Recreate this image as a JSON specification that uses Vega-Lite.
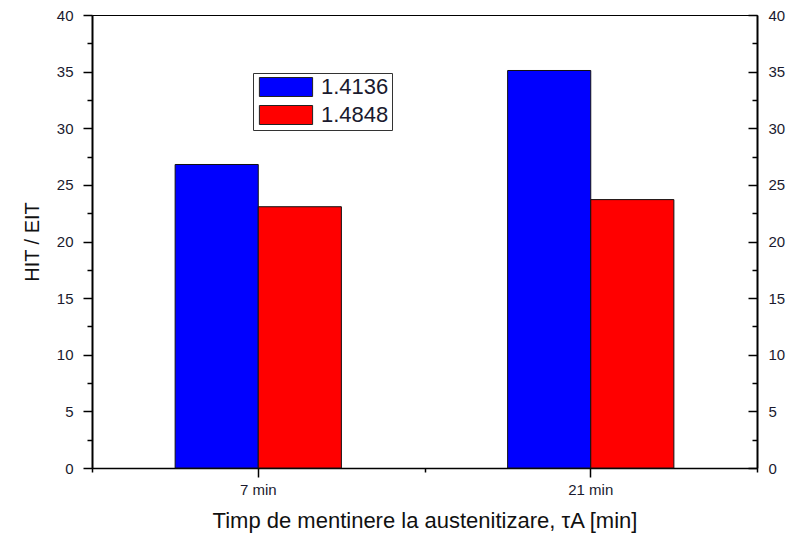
{
  "$schema": "https://vega.github.io/schema/vega-lite/v6.json",
  "width": 665,
  "height": 453,
  "autosize": {"type": "none"},
  "padding": {"left": 92, "top": 15, "right": 30, "bottom": 72},
  "background": "white",
  "config": {
    "view": {"stroke": "black", "strokeWidth": 1},
    "font": "Liberation Sans",
    "axis": {"labelFont": "Liberation Sans", "titleFont": "Liberation Sans", "labelColor": "#1a1a2e", "titleColor": "#111", "domainColor": "black", "tickColor": "black", "grid": false, "titleFontWeight": "normal"}
  },
  "data": {
    "values": [
      {"time": "7 min", "sample": "1.4136", "value": 26.8},
      {"time": "7 min", "sample": "1.4848", "value": 23.07},
      {"time": "21 min", "sample": "1.4136", "value": 35.1},
      {"time": "21 min", "sample": "1.4848", "value": 23.7}
    ]
  },
  "layer": [
    {
      "mark": {"type": "bar", "stroke": "#111", "strokeWidth": 1},
      "encoding": {
        "x": {
          "field": "time", "type": "nominal", "sort": ["7 min", "21 min"],
          "scale": {"paddingInner": 0, "paddingOuter": 0},
          "axis": {"orient": "bottom", "labelAngle": 0, "labelFontSize": 15, "tickSize": 9, "tickWidth": 1.5, "labelPadding": 5, "domainWidth": 1.5,
                   "title": "Timp de mentinere la austenitizare, τA [min]", "titleFontSize": 22, "titlePadding": 13}
        },
        "xOffset": {"field": "sample", "scale": {"paddingInner": 0, "paddingOuter": 1}},
        "y": {
          "field": "value", "type": "quantitative", "scale": {"domain": [0, 40], "nice": false},
          "axis": {"orient": "left", "values": [0, 2.5, 5, 7.5, 10, 12.5, 15, 17.5, 20, 22.5, 25, 27.5, 30, 32.5, 35, 37.5, 40],
                   "labelExpr": "datum.value % 5 === 0 ? datum.label : ''",
                   "tickSize": {"condition": {"test": "datum.value % 5 === 0", "value": 9}, "value": 5},
                   "tickWidth": 1.5, "domainWidth": 2, "labelFontSize": 15, "labelPadding": 10,
                   "title": "HIT / EIT", "titleFontSize": 20, "titlePadding": 14}
        },
        "color": {
          "field": "sample", "type": "nominal",
          "scale": {"range": ["#0000ff", "#ff0000"]},
          "legend": {"orient": "none", "legendX": 161, "legendY": 58, "title": null,
                     "strokeColor": "#333", "padding": 3,
                     "symbolType": "M-2.8,-1H2.8V1H-2.8Z", "symbolSize": 361,
                     "symbolStrokeColor": "#222", "symbolStrokeWidth": 1, "symbolOpacity": 1,
                     "symbolOffset": 19, "labelFontSize": 22, "labelOffset": 24, "rowPadding": 4,
                     "labelFont": "Liberation Sans", "labelColor": "#1a1a2e"}
        }
      }
    },
    {
      "mark": {"type": "bar", "opacity": 0},
      "encoding": {
        "x": {
          "field": "time", "type": "nominal", "sort": ["7 min", "21 min"],
          "scale": {"paddingInner": 0, "paddingOuter": 0},
          "axis": {"orient": "bottom", "tickBand": "extent", "labels": false, "domain": false, "tickSize": 4, "tickWidth": 1.5, "title": null}
        },
        "xOffset": {"field": "sample", "scale": {"paddingInner": 0, "paddingOuter": 1}},
        "y": {
          "field": "value", "type": "quantitative", "scale": {"domain": [0, 40], "nice": false},
          "axis": {"orient": "right", "values": [0, 2.5, 5, 7.5, 10, 12.5, 15, 17.5, 20, 22.5, 25, 27.5, 30, 32.5, 35, 37.5, 40],
                   "labelExpr": "datum.value % 5 === 0 ? datum.label : ''",
                   "tickSize": {"condition": {"test": "datum.value % 5 === 0", "value": -9}, "value": -5},
                   "tickWidth": 1.5, "domainWidth": 2, "labelFontSize": 15, "labelPadding": 20, "title": null}
        }
      }
    }
  ],
  "resolve": {"axis": {"y": "independent", "x": "independent"}}
}
